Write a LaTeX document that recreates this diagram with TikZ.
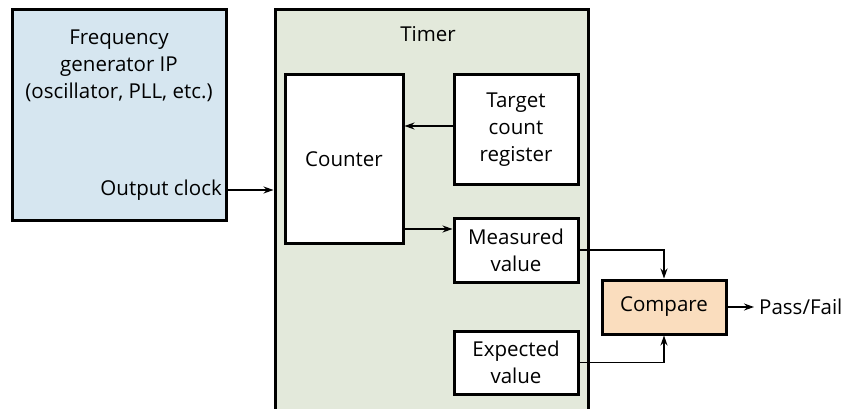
\documentclass[tikz,border=0pt]{standalone}
\usepackage{fontspec}
\setmainfont{Open Sans}
\usetikzlibrary{arrows.meta,calc}
\definecolor{freqblue}{RGB}{214,230,240}
\definecolor{timergreen}{RGB}{227,233,219}
\definecolor{comppeach}{RGB}{250,221,190}
\tikzset{
  blk/.style={draw=black, line width=3pt, rectangle, inner sep=0pt},
  txt/.style={font=\fontsize{20.5}{27}\selectfont, align=center, inner sep=0pt},
  arr/.style={line width=1.2pt, -{Stealth[length=10pt,width=7pt]}},
}
\begin{document}
\begin{tikzpicture}[x=1pt,y=-1pt]
\useasboundingbox (0,0) rectangle (854,409);
% Frequency generator
\node[blk, fill=freqblue, minimum width=214pt, minimum height=210pt] (freq) at (119,115) {};
\node[txt, anchor=north] (freqtxt) at (119,30) {Frequency\\generator IP\\(oscillator, PLL, etc.)};
\node[txt, anchor=east] (oclk) at (222,190) {Output clock};
% Timer
\node[blk, fill=timergreen, minimum width=313pt, minimum height=420pt] (timer) at (431.5,220) {};
\node[txt] (timertxt) at (428,34) {Timer};
% inner blocks
\node[blk, fill=white, minimum width=118pt, minimum height=168pt, txt] (counter) at (344,159) {Counter};
\node[blk, fill=white, minimum width=124pt, minimum height=109pt, txt] (target) at (516,129.5) {Target\\count\\register};
\node[blk, fill=white, minimum width=124pt, minimum height=64pt, txt] (measured) at (516,250) {Measured\\value};
\node[blk, fill=white, minimum width=124pt, minimum height=63pt, txt] (expected) at (516,362.5) {Expected\\value};
\node[blk, fill=comppeach, minimum width=124pt, minimum height=54pt, txt] (compare) at (664,307) {Compare};
\node[txt, anchor=west] (pf) at (759,307) {Pass/Fail};
% connectors
\draw[arr] (freq.east |- oclk) -- (timer.west |- oclk);
\coordinate (tgtout) at ([yshift=3.5pt]target.west);
\draw[arr] (tgtout) -- (counter.east |- tgtout);
\coordinate (measin) at ([yshift=21pt]measured.west);
\draw[arr] (counter.east |- measin) -- (measin);
\draw[arr] (measured.east) -| (compare.north);
\draw[arr] (expected.east) -| (compare.south);
\draw[arr, shorten >=5pt] (compare.east) -- (compare.east -| pf.west);
\end{tikzpicture}
\end{document}
